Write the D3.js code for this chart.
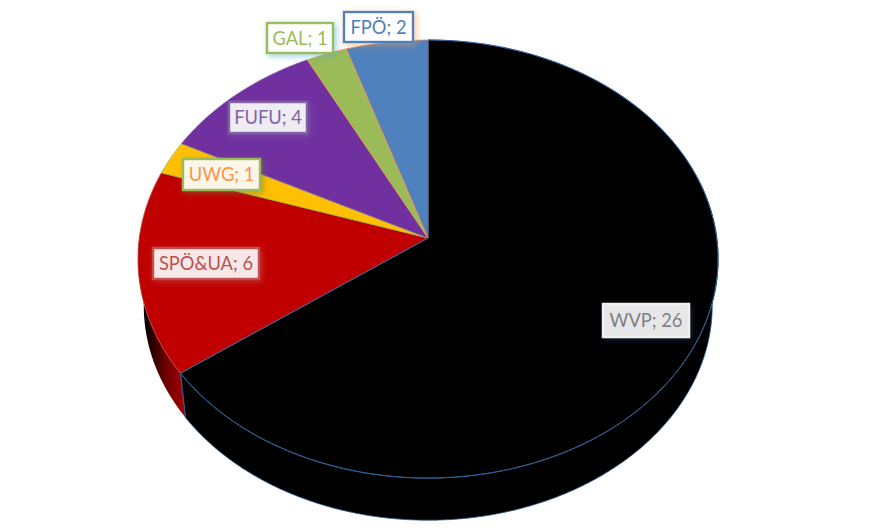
<!DOCTYPE html>
<html><head><meta charset="utf-8">
<script src="https://cdn.jsdelivr.net/npm/d3@7"></script>
<style>html,body{margin:0;padding:0;background:#fff;overflow:hidden}svg{display:block}</style>
</head><body>
<svg id="c" width="888" height="528"></svg>
<script>
const categories = ["WVP","SPÖ&UA","UWG","FUFU","GAL","FPÖ"];
const seats = [26,6,1,4,1,2];
const sliceColors = ["#000000","#C00000","#FFC000","#7030A0","#9BBB59","#4F81BD"];
const edgeColors = ["#2E5F94","#C0504D","#9BBB59","#8064A2","#F79646","#F79646"];
const labelText = ["#7F7F7F","#C0504D","#F79646","#8064A2","#9BBB59","#4F81BD"];
const labelBorder = ["#F2F2F2","#C0504D","#9BBB59","#8064A2","#9BBB59","#4F81BD"];
const labelFill = ["#E6E7E8","#F6E8E8","#FCF5EA","#F0ECF4","#FFFFFF","#FFFFFF"];
const labelShadow = ["#1F3A5F","#C0504D","#6B7F3A","#8064A2","#4BACC6","#F79646"];
const labelBoxes = [[603,304,86,33],[153,248,106,31],[183,159,77,31],[229,102,78,31],[267,23,66,30],[344,12,69,30]];

const svg = d3.select("#c");
const cx=428, cy=238, p=0.0959, q=217, r=288.7;
const lowK=0.98, lowY=285;
function topPt(a){const u=Math.sin(a),v=-Math.cos(a),s=1/(1-p*v);return [cx+r*u*s,cy+q*v*s];}
function lowPt(a){const t=topPt(a);return [cx+lowK*(t[0]-cx),lowY+lowK*(t[1]-cy)];}
const line=d3.line();
const arcPts=(f,a0,a1)=>{const n=Math.max(2,Math.ceil(Math.abs(a1-a0)/0.01));return d3.range(n+1).map(i=>f(a0+(a1-a0)*i/n));};
const arcs=d3.pie().sort(null).value(d=>d)(seats);
const rad=Math.PI/180;

const defs=svg.append("defs");
const g=defs.append("linearGradient").attr("id","redSide").attr("gradientUnits","userSpaceOnUse")
  .attr("x1",146).attr("x2",187).attr("y1",0).attr("y2",0);
g.append("stop").attr("offset",0).attr("stop-color","#0c0000");
g.append("stop").attr("offset",0.5).attr("stop-color","#700000");
g.append("stop").attr("offset",1).attr("stop-color","#ac0000");
seats.forEach((_,i)=>{
  const f=defs.append("filter").attr("id","sh"+i).attr("x","-30%").attr("y","-50%").attr("width","160%").attr("height","200%");
  f.append("feDropShadow").attr("dx",2).attr("dy",2).attr("stdDeviation",3).attr("flood-color",labelShadow[i]).attr("flood-opacity",0.55);
});

// side wall
const wvpEnd=arcs[0].endAngle;
const silR=76*rad, silL=272*rad;
svg.append("path").attr("fill","#000").attr("stroke","#2E5F94").attr("stroke-width",0.8)
  .attr("d",line(arcPts(topPt,silR,wvpEnd).concat(arcPts(lowPt,wvpEnd,silR)))+"Z");
svg.append("path").attr("fill","url(#redSide)")
  .attr("d",line(arcPts(topPt,wvpEnd,silL).concat(arcPts(lowPt,silL,wvpEnd)))+"Z");

// top face
arcs.forEach((d,i)=>{
  const pts=[[cx,cy]].concat(arcPts(topPt,d.startAngle,d.endAngle));
  svg.append("path").attr("fill",sliceColors[i]).attr("stroke",edgeColors[i]).attr("stroke-width",0.8)
    .attr("stroke-linejoin","round").attr("d",line(pts)+"Z");
});
// front edge of WVP
svg.append("path").attr("fill","none").attr("stroke","#2E5F94").attr("stroke-width",1)
  .attr("d",line([[cx,cy]].concat(arcPts(topPt,arcs[0].startAngle,wvpEnd)))+"Z");
svg.append("path").attr("fill","none").attr("stroke","#2E5F94").attr("stroke-width",1)
  .attr("d",line([topPt(wvpEnd),lowPt(wvpEnd)]));

// labels
categories.forEach((c,i)=>{
  const [x,y,w,h]=labelBoxes[i];
  const gl=svg.append("g");
  gl.append("rect").attr("x",x).attr("y",y).attr("width",w).attr("height",h)
    .attr("fill",labelFill[i]).attr("stroke",labelBorder[i]).attr("stroke-width",2.4)
    .attr("filter","url(#sh"+i+")");
  gl.append("text").attr("x",x+w/2).attr("y",y+h/2+6.5).attr("text-anchor","middle")
    .attr("font-family","Lato, 'Open Sans', sans-serif").attr("font-size",18.3)
    .attr("fill",labelText[i]).text(c+"; "+seats[i]);
});
</script>
</body></html>
